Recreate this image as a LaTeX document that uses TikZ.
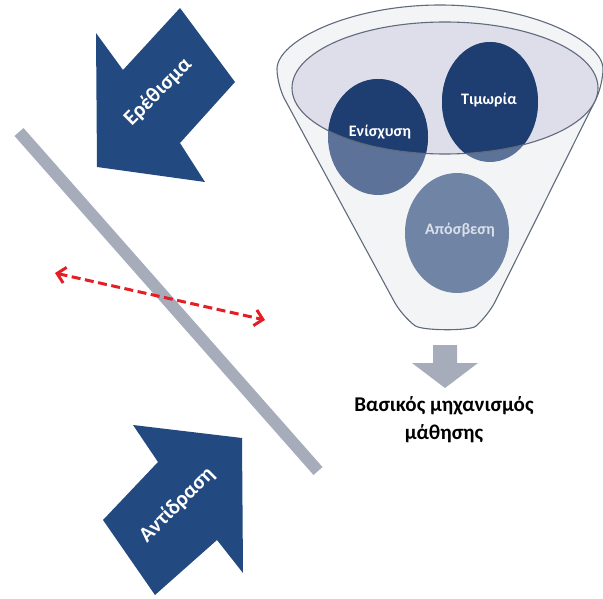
\documentclass[tikz,border=0pt]{standalone}
\usepackage{fontspec}
\setmainfont{Carlito}
\usetikzlibrary{arrows.meta,shapes.geometric}

\definecolor{navy}{RGB}{35,74,128}
\definecolor{deepnavy}{RGB}{30,61,112}
\definecolor{midnavy}{RGB}{92,114,153}
\definecolor{slate}{RGB}{112,132,166}
\definecolor{slatetext}{RGB}{218,224,234}
\definecolor{lavender}{RGB}{221,222,233}
\definecolor{funnelfill}{RGB}{243,244,246}
\definecolor{funnelline}{RGB}{95,106,124}
\definecolor{bargrey}{RGB}{167,172,187}
\definecolor{dashred}{RGB}{228,30,36}

\tikzset{
  blockarrow/.style={fill=navy, draw=none},
  arrowlabel/.style={text=white, font=\bfseries\fontsize{21.5}{24}\selectfont, rotate=45, inner sep=0pt},
  funnelpart/.style={draw=funnelline, line width=1.1pt},
  circlelabel/.style={text=white, font=\bfseries\fontsize{16}{19}\selectfont, inner sep=0pt},
  redbarb/.tip={Straight Barb[length=8pt,width=16pt,line width=3pt]},
}

\begin{document}
\begin{tikzpicture}[x=1pt, y=-1pt]
\useasboundingbox (0,0) rectangle (603,599);

% stimulus arrow, pointing down-left
\path[blockarrow] (96,33) -- (123,70) -- (180,8) -- (235,82) -- (180,143)
  -- (205,182) -- (97,167) -- cycle;
\node[arrowlabel] (stim) at (158,92) {Ερέθισμα};

% response arrow, pointing up-right
\path[blockarrow] (242,438) -- (243,573) -- (217,540) -- (155,595)
  -- (103,520) -- (158,462) -- (133,425) -- cycle;
\node[arrowlabel] (resp) at (177,505) {Αντίδραση};

% dividing bar
\coordinate (barA) at (19,132);
\coordinate (barB) at (318,471);
\draw[bargrey, line width=12pt] (barA) -- (barB);

% dashed two-way arrow across the bar
\coordinate (redL) at (55,273);
\coordinate (redR) at (265,320);
\draw[dashred, line width=3pt, dash pattern=on 9pt off 4.5pt, redbarb-redbarb]
  (redL) -- (redR);

% funnel body
\path[funnelpart, fill=funnelfill, rounded corners=16pt]
  (277,85) arc[start angle=180, end angle=360, x radius=163, y radius=80]
  -- (488,316) .. controls (470,331) and (422,331) .. (402,316) -- cycle;

% funnel mouth
\fill[lavender] (445,88) ellipse [x radius=153, y radius=66];

% the three circles
\fill[midnavy] (378,137) ellipse [x radius=50, y radius=58];
\fill[midnavy] (490,102) ellipse [x radius=48, y radius=60];
\fill[slate] (457,233) ellipse [x radius=52, y radius=60];
\begin{scope}
  \clip (445,88) ellipse [x radius=153, y radius=66];
  \fill[deepnavy] (378,137) ellipse [x radius=50, y radius=58];
  \fill[deepnavy] (490,102) ellipse [x radius=48, y radius=60];
\end{scope}
\draw[funnelpart] (445,88) ellipse [x radius=153, y radius=66];

\node[circlelabel] (reinf) at (380,132) {Ενίσχυση};
\node[circlelabel] (punish) at (489,100) {Τιμωρία};
\node[circlelabel, text=slatetext] (extinct) at (460,230) {Απόσβεση};

% output arrow and caption
\path[fill=bargrey] (433,345) -- (457,345) -- (457,363) -- (478,363)
  -- (445,388) -- (412,363) -- (433,363) -- cycle;
\node[font=\bfseries\fontsize{21}{28}\selectfont, align=center, inner sep=0pt]
  (mech) at (444,420) {Βασικός μηχανισμός\\μάθησης};
\end{tikzpicture}
\end{document}
